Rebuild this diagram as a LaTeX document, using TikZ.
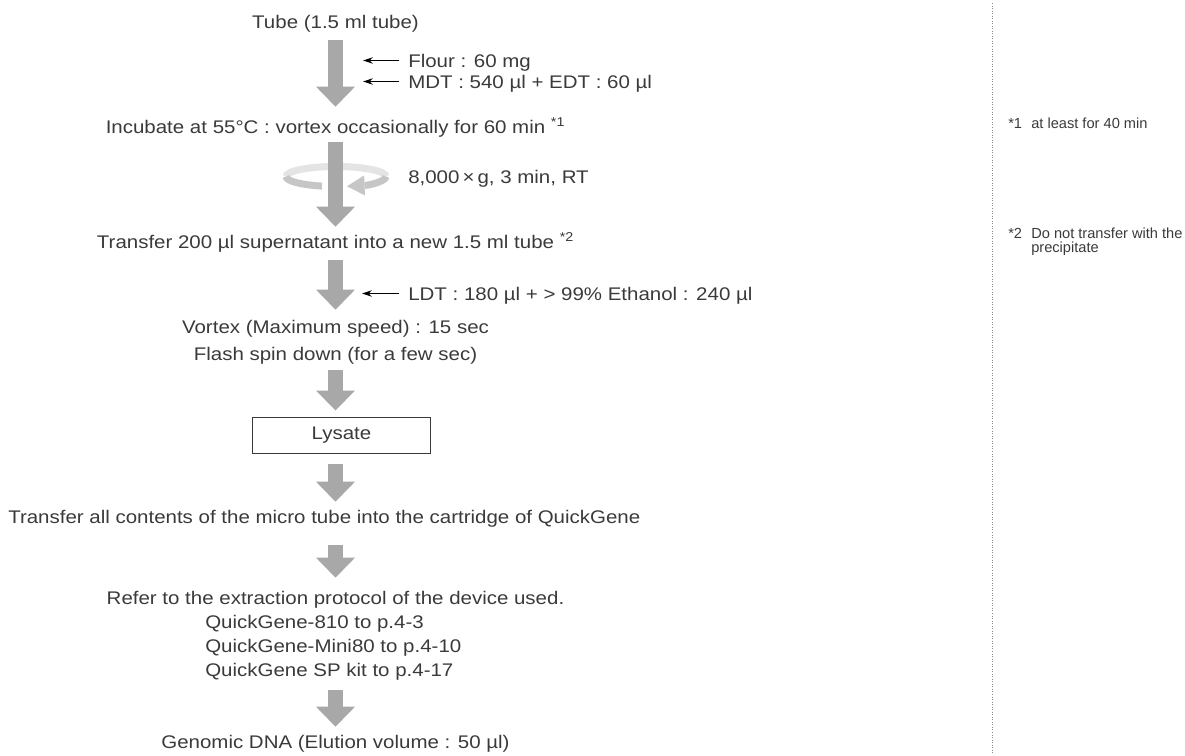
\documentclass[tikz,border=0pt]{standalone}
\usepackage{fontspec}
\setmainfont[FakeStretch=1.12]{Liberation Sans}
\newfontfamily\notefont{Liberation Sans}
\usetikzlibrary{arrows.meta}
\definecolor{ink}{HTML}{3A3A3A}
\definecolor{flow}{HTML}{A8A8A8}
\definecolor{ringback}{HTML}{E4E4E4}
\definecolor{ringfront}{HTML}{C6C6C6}
\definecolor{rule}{HTML}{8A8A8A}

\begin{document}
\begin{tikzpicture}[x=0.025cm,y=-0.025cm,
        lbl/.style={inner sep=0pt,text height=9.3pt,text depth=0pt,text=ink,font=\fontsize{13}{15}\selectfont},
        fnote/.style={inner sep=0pt,anchor=base west,text=ink,font=\notefont\fontsize{10.4}{12}\selectfont},
        flowarrow/.style={draw=flow,line width=0.375cm,-{Triangle[width=0.975cm,length=0.5cm,line width=0pt]}},
        feed/.style={draw=black,line width=0.9pt,shorten <=0.22cm,-{Stealth[length=7pt,width=4.6pt]}},
        ring/.style={line width=0.175cm}]
        \useasboundingbox(0,0)rectangle(1185,756);

        \node[lbl](tube)at(335.5,21.5){Tube (1.5 ml tube)};
        \node[lbl,anchor=west](flour)at(408,60.5){Flour : 60 mg};
        \node[lbl,anchor=west](mdt)at(408,81.5){MDT : 540 µl + EDT : 60 µl};
        \node[lbl](incub)at(335.5,126.5){Incubate at 55°C : vortex occasionally for 60 min \textsuperscript{*1}};
        \node[lbl,anchor=west](spin)at(408,176.5){8,000\,×\,g, 3 min, RT};
        \node[lbl](tr200)at(335.5,241.5){Transfer 200 µl supernatant into a new 1.5 ml tube \textsuperscript{*2}};
        \node[lbl,anchor=west](ldt)at(408,293.5){LDT : 180 µl + > 99\% Ethanol : 240 µl};
        \node[lbl](vortex)at(335.5,326.5){Vortex (Maximum speed) : 15 sec};
        \node[lbl](flash)at(335.5,353.5){Flash spin down (for a few sec)};
        \node[draw=ink,line width=0.7pt,minimum width=4.425cm,minimum height=0.9cm,inner sep=0pt,
            text=ink,font=\fontsize{13}{15}\selectfont](lysate)at(341.5,435){Lysate};
        \node[lbl,anchor=west](trall)at(8,516.5){Transfer all contents of the micro tube into the cartridge of QuickGene};
        \node[lbl](refer)at(335.5,597.5){Refer to the extraction protocol of the device used.};
        \node[lbl,anchor=west](qg1)at(205,621.5){QuickGene-810 to p.4-3};
        \node[lbl,anchor=west](qg2)at(205,645.5){QuickGene-Mini80 to p.4-10};
        \node[lbl,anchor=west](qg3)at(205,669.5){QuickGene SP kit to p.4-17};
        \node[lbl](genomic)at(335.5,741.5){Genomic DNA (Elution volume : 50 µl)};

        \coordinate(flourend)at(363,60.5);
        \coordinate(mdtend)at(363,81.5);
        \coordinate(ldtend)at(362,293.5);
        \draw[feed](flour.west)--(flourend);
        \draw[feed](mdt.west)--(mdtend);
        \draw[feed](ldt.west)--(ldtend);

        \draw[ring,ringback](386,176.5)arc[start angle=0,end angle=180,x radius=1.25cm,y radius=0.25cm];
        \draw[ring,ringfront](286,176.5)arc[start angle=180,end angle=253.7,x radius=1.25cm,y radius=0.25cm];
        \draw[ring,ringfront,-{Triangle[width=0.5cm,length=0.44cm,line width=0pt]}](386,176.5)
            arc[start angle=360,end angle=282.7,x radius=1.25cm,y radius=0.25cm];

        \draw[flowarrow,shorten <=0.3cm,shorten >=0.325cm](tube)--(incub);
        \draw[flowarrow,shorten <=0.225cm,shorten >=0.2cm](incub)--(tr200);
        \draw[flowarrow,shorten <=0.3cm,shorten >=0.25cm](tr200)--(vortex);
        \draw[flowarrow,shorten <=0.25cm,shorten >=0.15cm](flash)--(flash|-lysate.north);
        \draw[flowarrow,shorten <=0.25cm,shorten >=0.2cm](tube|-lysate.south)--(tube|-trall.north);
        \draw[flowarrow,shorten <=0.55cm,shorten >=0.325cm](tube|-trall.south)--(tube|-refer.north);
        \draw[flowarrow,shorten <=0.35cm,shorten >=0.2cm](tube|-qg3.south)--(tube|-genomic.north);

        \draw[rule,line width=0.7pt,dash pattern=on 0.7pt off 1.1pt](992,3)--(992,754);
        \node[fnote](mark1)at(1008,128){*1};
        \node[fnote](note1)at(1031,128){at least for 40 min};
        \node[fnote](mark2)at(1008,238){*2};
        \node[fnote](note2)at(1031,238){Do not transfer with the};
        \node[fnote](note2b)at(1031,252){precipitate};
\end{tikzpicture}
\end{document}
